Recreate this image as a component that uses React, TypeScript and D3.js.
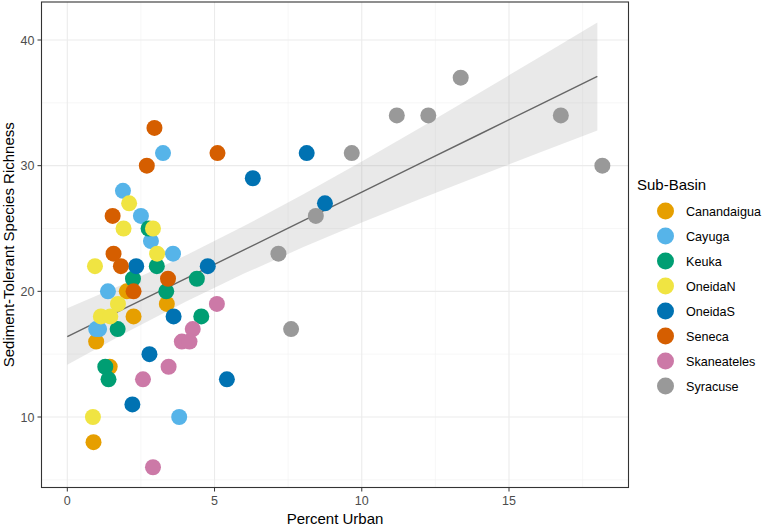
import React from 'react';
import { scaleLinear, scaleOrdinal, line, area } from 'd3';

const width = 763;
const height = 529;

const basins = ['Canandaigua', 'Cayuga', 'Keuka', 'OneidaN', 'OneidaS', 'Seneca', 'Skaneateles', 'Syracuse'];
const basinColors = ['#E69F00', '#56B4E9', '#009E73', '#F0E442', '#0072B2', '#D55E00', '#CC79A7', '#999999'];

// percent urban / sediment-tolerant richness, one pair of lists per sub-basin
const canandaiguaUrban = [2.02, 3.38, 2.25, 0.98, 1.44, 0.89];
const canandaiguaRich = [20, 19, 18, 16, 14, 8];
const cayugaUrban = [3.25, 1.89, 2.5, 2.84, 3.59, 1.38, 0.98, 1.08, 3.8];
const cayugaRich = [31, 28, 26, 24, 23, 20, 17, 17, 10];
const keukaUrban = [2.76, 3.04, 2.23, 3.36, 1.71, 4.4, 4.55, 1.29, 1.4];
const keukaRich = [25, 22, 21, 20, 17, 21, 18, 14, 13];
const oneidaNUrban = [2.1, 1.91, 2.91, 3.05, 0.94, 1.72, 1.14, 1.46, 0.87];
const oneidaNRich = [27, 25, 25, 23, 22, 19, 18, 18, 10];
const oneidaSUrban = [6.3, 8.13, 8.75, 2.34, 4.77, 3.61, 2.79, 2.21, 5.42];
const oneidaSRich = [29, 31, 27, 22, 22, 18, 15, 11, 13];
const senecaUrban = [2.96, 2.7, 5.1, 1.54, 1.57, 1.82, 3.42, 2.25];
const senecaRich = [33, 30, 31, 26, 23, 22, 21, 20];
const skaneatelesUrban = [5.08, 4.26, 3.89, 4.15, 3.44, 2.57, 2.91];
const skaneatelesRich = [19, 17, 16, 16, 14, 13, 6];
const syracuseUrban = [7.17, 7.6, 8.44, 9.66, 11.19, 12.26, 13.36, 16.76, 18.17];
const syracuseRich = [23, 17, 26, 31, 34, 34, 37, 34, 30];

// linear fit with its 95% band
const fitX = [0, 2, 4, 6, 8, 10, 12, 14, 16, 18];
const fitY = [16.4, 18.7, 21.0, 23.3, 25.6, 27.9, 30.2, 32.5, 34.8, 37.1];
const fitLow = [14.15, 16.73, 19.16, 21.41, 23.5, 25.47, 27.36, 29.2, 31.01, 32.8];
const fitHigh = [18.65, 20.67, 22.84, 25.19, 27.7, 30.33, 33.04, 35.8, 38.59, 41.4];

const xTicks = [0, 5, 10, 15];
const xMinor = [2.5, 7.5, 12.5, 17.5];
const yTicks = [10, 20, 30, 40];
const yMinor = [5, 15, 25, 35];

const groups = [
  [canandaiguaUrban, canandaiguaRich],
  [cayugaUrban, cayugaRich],
  [keukaUrban, keukaRich],
  [oneidaNUrban, oneidaNRich],
  [oneidaSUrban, oneidaSRich],
  [senecaUrban, senecaRich],
  [skaneatelesUrban, skaneatelesRich],
  [syracuseUrban, syracuseRich],
];

const font = '"Liberation Sans", Arial, Helvetica, sans-serif';

const App = () => {
  const x = scaleLinear().domain([0, 15]).range([67.3, 509]);
  const y = scaleLinear().domain([10, 40]).range([417, 40]);
  const color = scaleOrdinal<string, string>().domain(basins).range(basinColors);

  const left = 41.5, right = 628.5, top = 2, bottom = 487.5;

  const points = groups.flatMap(([xs, ys], i) =>
    xs.map((u, j) => ({ basin: basins[i], urban: u, rich: ys[j] }))
  );

  const fit = fitX.map((v, i) => ({ x: v, y: fitY[i], lo: fitLow[i], hi: fitHigh[i] }));
  const band = area<typeof fit[0]>().x(d => x(d.x)).y0(d => y(d.lo)).y1(d => y(d.hi));
  const fitLine = line<typeof fit[0]>().x(d => x(d.x)).y(d => y(d.y));

  return (
    <svg width={width} height={height} style={{ position: 'absolute', left: 0, top: 0 }} fontFamily={font}>
      <rect width={width} height={height} fill="#fff" />
      <g>
        {xMinor.map(t => (
          <line key={'xm' + t} x1={x(t)} x2={x(t)} y1={top} y2={bottom} stroke="#F2F2F2" strokeWidth={0.6} />
        ))}
        {yMinor.map(t => (
          <line key={'ym' + t} x1={left} x2={right} y1={y(t)} y2={y(t)} stroke="#F2F2F2" strokeWidth={0.6} />
        ))}
        {xTicks.map(t => (
          <line key={'xg' + t} x1={x(t)} x2={x(t)} y1={top} y2={bottom} stroke="#EBEBEB" strokeWidth={1.1} />
        ))}
        {yTicks.map(t => (
          <line key={'yg' + t} x1={left} x2={right} y1={y(t)} y2={y(t)} stroke="#EBEBEB" strokeWidth={1.1} />
        ))}
      </g>
      <path d={band(fit) ?? ''} fill="#999999" fillOpacity={0.22} />
      <path d={fitLine(fit) ?? ''} fill="none" stroke="#666666" strokeWidth={1.4} />
      {points.map((d, i) => (
        <circle key={i} cx={x(d.urban)} cy={y(d.rich)} r={8} fill={color(d.basin)} />
      ))}
      <rect x={left} y={top} width={right - left} height={bottom - top} fill="none" stroke="#333333" strokeWidth={1.1} />
      {xTicks.map(t => (
        <g key={'xt' + t}>
          <line x1={x(t)} x2={x(t)} y1={bottom} y2={bottom + 4} stroke="#333333" strokeWidth={1} />
          <text x={x(t)} y={bottom + 17} textAnchor="middle" fontSize={12.5} fill="#4D4D4D">{t}</text>
        </g>
      ))}
      {yTicks.map(t => (
        <g key={'yt' + t}>
          <line x1={left - 4} x2={left} y1={y(t)} y2={y(t)} stroke="#333333" strokeWidth={1} />
          <text x={left - 7} y={y(t) + 4.5} textAnchor="end" fontSize={12.5} fill="#4D4D4D">{t}</text>
        </g>
      ))}
      <text x={(left + right) / 2} y={524} textAnchor="middle" fontSize={15} fill="#000">Percent Urban</text>
      <text transform={`translate(14,${(top + bottom) / 2}) rotate(-90)`} textAnchor="middle" fontSize={15} fill="#000">
        Sediment-Tolerant Species Richness
      </text>
      <g>
        <text x={637} y={190} fontSize={15} fill="#000">Sub-Basin</text>
        {basins.map((b, i) => (
          <g key={b}>
            <circle cx={665.5} cy={211 + i * 25} r={8.5} fill={color(b)} />
            <text x={686} y={211 + i * 25 + 4.5} fontSize={12.6} fill="#000">{b}</text>
          </g>
        ))}
      </g>
    </svg>
  );
};

export default App;
